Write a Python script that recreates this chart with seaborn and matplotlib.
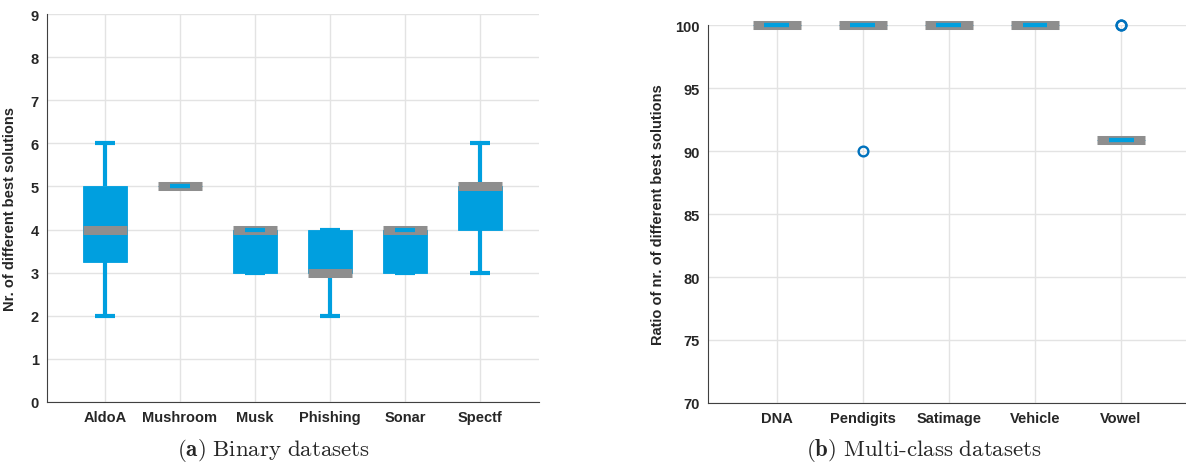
import numpy as np
import pandas as pd
import matplotlib
matplotlib.use("Agg")
import matplotlib.pyplot as plt
import seaborn as sns

# ---------------- data ----------------
binary_names = ["AldoA", "Mushroom", "Musk", "Phishing", "Sonar", "Spectf"]
aldoa = [2, 3, 3, 4, 4, 4, 5, 5, 5, 6]
mushroom = [5, 5, 5, 5, 5, 5, 5, 5, 5, 5]
musk = [3, 3, 3, 3, 4, 4, 4, 4, 4, 4]
phishing = [2, 3, 3, 3, 3, 3, 4, 4, 4, 4]
sonar = [3, 3, 3, 3, 4, 4, 4, 4, 4, 4]
spectf = [3, 4, 4, 4, 5, 5, 5, 5, 5, 6]

multi_names = ["DNA", "Pendigits", "Satimage", "Vehicle", "Vowel"]
dna = [100, 100, 100, 100, 100, 100, 100, 100, 100, 100]
pendigits = [100, 100, 100, 100, 100, 100, 100, 100, 100, 90]
satimage = [100, 100, 100, 100, 100, 100, 100, 100, 100, 100]
vehicle = [100, 100, 100, 100, 100, 100, 100, 100, 100, 100]
vowel = [90.9, 90.9, 90.9, 90.9, 90.9, 90.9, 90.9, 90.9, 100, 100]

left_yticks = list(range(0, 10))
right_yticks = [70, 75, 80, 85, 90, 95, 100]

BLUE = "#009FDF"
GRAY = "#8E8E8E"
FLIER = "#0072BD"
GRID = "#E3E3E3"

def long_df(names, series):
    rows = []
    for n, vals in zip(names, series):
        for v in vals:
            rows.append((n, v))
    return pd.DataFrame(rows, columns=["dataset", "value"])

df_bin = long_df(binary_names, [aldoa, mushroom, musk, phishing, sonar, spectf])
df_multi = long_df(multi_names, [dna, pendigits, satimage, vehicle, vowel])

sns.set_style("white")
plt.rcParams["font.family"] = ["Liberation Sans", "DejaVu Sans"]
plt.rcParams["mathtext.fontset"] = "cm"

fig = plt.figure(figsize=(11.86, 4.64), dpi=100)
ax1 = fig.add_axes([47 / 1186, 1 - 403 / 464, 492 / 1186, 388 / 464])
ax2 = fig.add_axes([708 / 1186, 1 - 404 / 464, 481 / 1186, 378 / 464])

def draw(ax, df, order, width, capw, ylim, yticks, xlim, ylabel):
    sns.boxplot(
        data=df, x="dataset", y="value", order=order, ax=ax,
        width=width, whis=1.5, color=BLUE, linecolor=BLUE,
        capwidths=capw,
        boxprops=dict(facecolor=BLUE, edgecolor=BLUE, linewidth=0.6),
        medianprops=dict(color=GRAY, linewidth=6.5, solid_capstyle="butt", zorder=2.2),
        whiskerprops=dict(color=BLUE, linewidth=3.0, solid_capstyle="butt"),
        capprops=dict(color=BLUE, linewidth=3.0, solid_capstyle="butt", zorder=2.4),
        flierprops=dict(marker="o", markerfacecolor="none", markeredgecolor=FLIER,
                        markeredgewidth=1.7, markersize=7),
    )
    for art in list(ax.lines) + list(ax.patches):
        art.set_clip_on(False)
    ax.set_xlim(*xlim)
    ax.set_ylim(*ylim)
    ax.set_yticks(yticks)
    ax.set_xticks(range(len(order)))
    ax.set_xticklabels(order, fontsize=10.5, fontweight="bold", color="#262626")
    ax.set_yticklabels([str(t) for t in yticks], fontsize=10.5, fontweight="bold", color="#262626")
    ax.set_xlabel("")
    ax.set_ylabel(ylabel, fontsize=10.5, fontweight="bold", color="#262626")
    ax.grid(True, color=GRID, linewidth=1.0)
    ax.set_axisbelow(True)
    for s in ["top", "right"]:
        ax.spines[s].set_visible(False)
    for s in ["left", "bottom"]:
        ax.spines[s].set_color("#404040")
        ax.spines[s].set_linewidth(0.8)
    ax.tick_params(axis="both", direction="in", length=4, width=0.8, color="#404040", pad=6)

draw(ax1, df_bin, binary_names, 0.59, 0.27, (0, 9), left_yticks, (-0.773, 5.787),
     "Nr. of different best solutions")
draw(ax2, df_multi, multi_names, 0.55, 0.29, (70, 100), right_yticks, (-0.80, 4.79),
     "Ratio of nr. of different best solutions")

ax1.yaxis.set_label_coords(-0.061, 0.5)
ax2.yaxis.set_label_coords(-0.089, 0.5)

fig.text(274 / 1186, 1 - 451 / 464, r"$\mathbf{(a)}\ \mathrm{Binary\ datasets}$",
         ha="center", va="center", fontsize=16.5)
fig.text(924 / 1186, 1 - 451 / 464, r"$\mathbf{(b)}\ \mathrm{Multi\text{-}class\ datasets}$",
         ha="center", va="center", fontsize=16.5)

fig.savefig("out.png", dpi=100)
